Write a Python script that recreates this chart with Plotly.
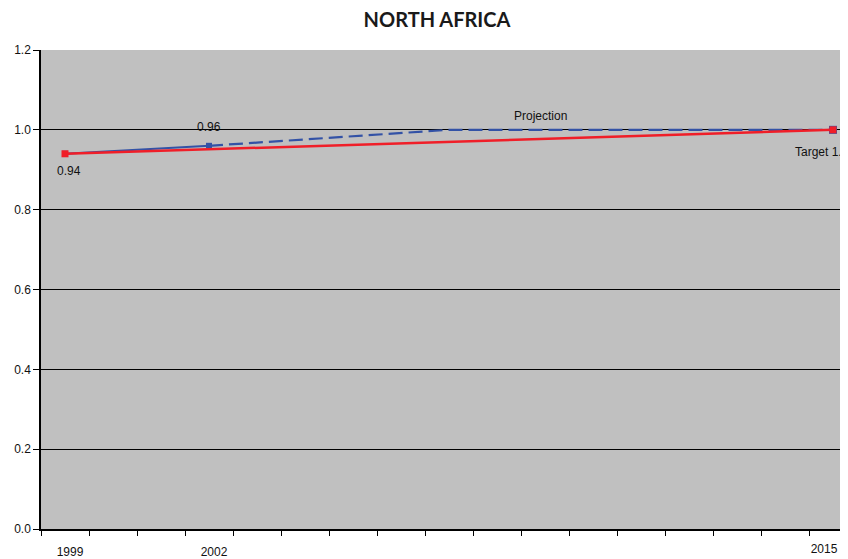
import plotly.graph_objects as go

years_actual = [1999, 2002]
values_actual = [0.94, 0.96]
years_proj = [2002, 2007, 2015]
values_proj = [0.96, 1.00, 1.00]
years_target = [1999, 2015]
values_target = [0.94, 1.00]
tick_years_left = [1999, 2002]
tick_labels_left = ["1999", "2002"]
tick_years_right = [2015]
tick_labels_right = ["2015"]
y_ticks = [0.0, 0.2, 0.4, 0.6, 0.8, 1.0, 1.2]

BLUE = "#3352A6"
RED = "#F01E28"

# page body has an 8px default margin; figure coordinates are offset by 8px
W, H = 848, 551
x_range = [1998.5, 1998.5 + (W - 33) / 48.0]

fig = go.Figure()
fig.add_trace(go.Scatter(x=years_proj, y=values_proj, mode="lines",
                         line=dict(color=BLUE, width=2.2, dash="14px,6px"),
                         showlegend=False, hoverinfo="skip"))
fig.add_trace(go.Scatter(x=years_actual, y=values_actual, mode="lines+markers",
                         line=dict(color=BLUE, width=2),
                         marker=dict(color=BLUE, size=6, symbol="square"),
                         showlegend=False, cliponaxis=False))
fig.add_trace(go.Scatter(x=[years_proj[-1]], y=[values_proj[-1]], mode="markers",
                         marker=dict(color=BLUE, size=8, symbol="square"),
                         showlegend=False, cliponaxis=False))
fig.add_trace(go.Scatter(x=years_target, y=values_target, mode="lines+markers",
                         line=dict(color=RED, width=2.5),
                         marker=dict(color=RED, size=7, symbol="square"),
                         showlegend=False, cliponaxis=False, xaxis="x2"))

ann_font = dict(family="Liberation Sans, Arial", size=12, color="#111111")
fig.add_annotation(x=years_actual[1], y=values_actual[1], text="0.96", showarrow=False,
                   yshift=19, xshift=0, font=ann_font)
fig.add_annotation(x=years_actual[0], y=values_actual[0], text="0.94", showarrow=False,
                   yshift=-17, xshift=4, font=ann_font)
fig.add_annotation(x=2008.9, y=1.0, text="Projection", showarrow=False,
                   yshift=14, font=ann_font)
fig.add_annotation(x=years_target[1], y=values_target[1], text="Target 1.0",
                   showarrow=False, xanchor="left", xshift=-40, yshift=-22, font=ann_font)

tick_font = dict(family="Liberation Sans, Arial", size=12, color="#111111")
fig.update_layout(
    width=W, height=H, autosize=False,
    margin=dict(l=33, r=0, t=42, b=30, autoexpand=False),
    paper_bgcolor="white",
    plot_bgcolor="#C0C0C0",
    title=dict(text="<b>NORTH AFRICA</b>", x=429 / W, xanchor="center", y=1 - 12 / H,
               yanchor="middle",
               font=dict(family="Lato, Inter, sans-serif", size=20, color="#1a1a1a")),
    xaxis=dict(
        range=x_range,
        tickvals=tick_years_left, ticktext=tick_labels_left,
        ticks="", showgrid=False, zeroline=False, automargin=False,
        showline=True, linecolor="black", linewidth=1.5,
        tickfont=tick_font, ticklabelstandoff=11, ticklabelshift=5,
        minor=dict(ticks="outside", ticklen=5, tickcolor="black", tick0=1998.5, dtick=1,
                   showgrid=False),
    ),
    xaxis2=dict(
        range=x_range, overlaying="x", side="bottom",
        tickvals=tick_years_right, ticktext=tick_labels_right,
        ticks="", showgrid=False, zeroline=False, automargin=False, showline=False,
        tickfont=tick_font, ticklabelstandoff=11, ticklabelshift=-9,
    ),
    yaxis=dict(
        range=[0, 1.2], tickvals=y_ticks, tickformat=".1f", automargin=False,
        ticks="outside", ticklen=6, tickcolor="black",
        showgrid=True, gridcolor="black", gridwidth=1,
        zeroline=False, showline=True, linecolor="black", linewidth=1.5,
        tickfont=tick_font,
    ),
)

fig.write_html("out.html")
